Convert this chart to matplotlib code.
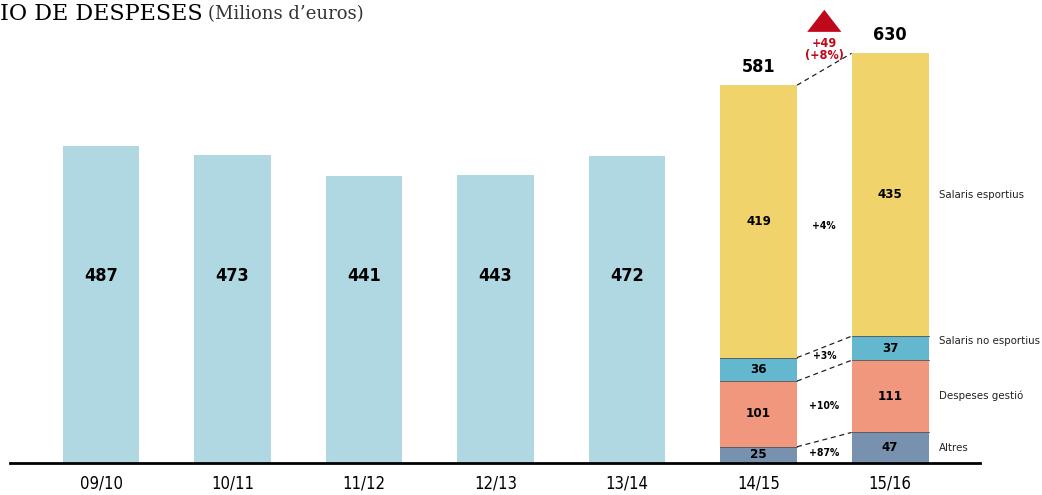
import matplotlib
matplotlib.use('Agg')
import matplotlib.pyplot as plt
from matplotlib.patches import Polygon
import numpy as np

# data
seasons = ['09/10', '10/11', '11/12', '12/13', '13/14', '14/15', '15/16']
totals_old = [487, 473, 441, 443, 472]
totals_new = [581, 630]
parts = ['Altres', 'Despeses gestió', 'Salaris no esportius', 'Salaris esportius']
part_1415 = [25, 101, 36, 419]
part_1516 = [47, 111, 37, 435]
growth = ['+87%', '+10%', '+3%', '+4%']
diff_label = '+49\n(+8%)'

part_colors = ['#7891ae', '#f0977d', '#63b8cf', '#f0d46b']
old_color = '#afd8e3'
red = '#c0081c'

narrow = ['DejaVu Sans']
st = 'condensed'

fig = plt.figure(figsize=(10.42, 4.95), dpi=100)
ax = fig.add_axes([10/1042, 32/495, 970/1042, 463/495])
ax.set_xlim(-0.692, 6.684)
ax.set_ylim(0, 712)
w = 0.585

x = np.arange(len(seasons))

# earlier seasons, one block each
ax.bar(x[:5], totals_old, width=w, color=old_color)
for xi, v in zip(x[:5], totals_old):
    ax.text(xi, 288, str(v), ha='center', va='center', fontsize=13,
            fontweight='bold', family=narrow, stretch=st)

# last two seasons split by item
for xi, vals, tot in [(x[5], part_1415, totals_new[0]), (x[6], part_1516, totals_new[1])]:
    bottom = 0
    for v, c in zip(vals, part_colors):
        ax.bar(xi, v, width=w, bottom=bottom, color=c, linewidth=0)
        if bottom > 0:
            ax.plot([xi - w / 2, xi + w / 2], [bottom, bottom], color='#555555', lw=0.6)
        ax.text(xi, bottom + v / 2, str(v), ha='center', va='center', fontsize=9.5,
                fontweight='bold', family=narrow, stretch=st)
        bottom += v
    ax.text(xi, tot + 14, str(tot), ha='center', va='bottom', fontsize=13,
            fontweight='bold', family=narrow, stretch=st)

# dashed links between the two stacks
cum_a = np.cumsum(part_1415)
cum_b = np.cumsum(part_1516)
x0 = x[5] + w / 2
x1 = x[6] - w / 2
for ya, yb in zip(cum_a, cum_b):
    ax.plot([x0, x1], [ya, yb], color='#222222', lw=0.9, ls=(0, (4, 3)))

grow_y = [15, 87, 165, 365]
for g, gy in zip(growth, grow_y):
    ax.text((x0 + x1) / 2, gy, g, ha='center', va='center', fontsize=7.5,
            fontweight='bold', family=narrow, stretch=st)

lab_y = [23, 103, 187, 412]
for p, ly in zip(parts, lab_y):
    ax.text(x[6] + w / 2 + 0.08, ly, p, ha='left', va='center', fontsize=8.2,
            family=narrow, stretch=st, color='#222222')

# red arrow with total change
xm = (x0 + x1) / 2
tri = Polygon([[xm - 0.13, 663], [xm + 0.13, 663], [xm, 697]], closed=True,
              color=red, clip_on=False, lw=0)
ax.add_patch(tri)
ax.text(xm, 636, diff_label, ha='center', va='center', fontsize=9,
        fontweight='bold', family=narrow, stretch=st, color=red, linespacing=0.95)

ax.set_xticks(x)
ax.set_xticklabels(seasons, fontsize=12, family=narrow, stretch=st)
ax.tick_params(axis='x', length=0, pad=8)
ax.set_yticks([])
for s in ['top', 'right', 'left']:
    ax.spines[s].set_visible(False)
ax.spines['bottom'].set_linewidth(2)

# title (cut at the left in the original)
fig.text(0, 1 - 14/495, 'IO DE DESPESES', fontsize=16, family='DejaVu Serif',
         va='center', ha='left')
fig.text(208/1042, 1 - 14/495, '(Milions d\u2019euros)', fontsize=13,
         family='DejaVu Serif', va='center', ha='left', color='#333333')

fig.savefig('out.png', dpi=100)
